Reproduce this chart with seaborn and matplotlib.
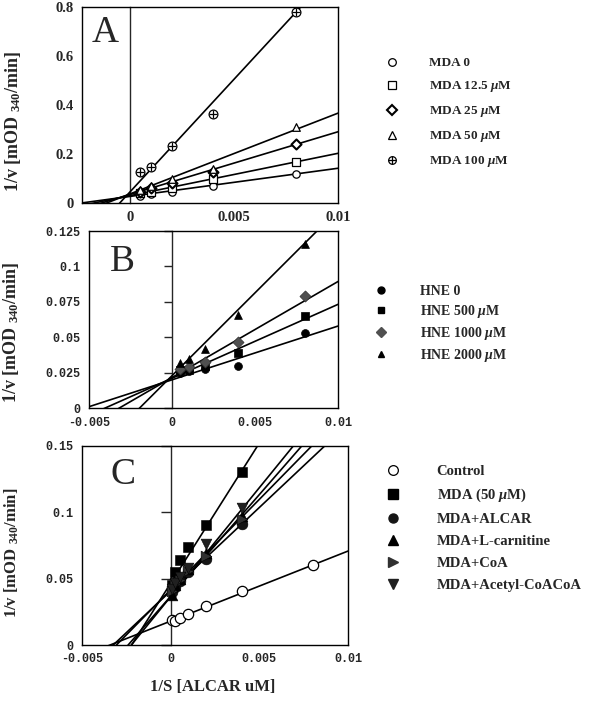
import numpy as np
import pandas as pd
import matplotlib
matplotlib.use('Agg')
import matplotlib.pyplot as plt
import seaborn as sns
from matplotlib.lines import Line2D

sns.set_style('white')
plt.rcParams['font.family'] = ['Liberation Serif', 'DejaVu Serif']
plt.rcParams['mathtext.fontset'] = 'custom'
plt.rcParams['mathtext.rm'] = 'Liberation Serif:bold'
plt.rcParams['mathtext.it'] = 'Liberation Serif:italic:bold'
plt.rcParams['mathtext.bf'] = 'Liberation Serif:bold'

# ---- panel A : MDA ----
xA = [0.0005, 0.001, 0.002, 0.004, 0.008]
A_labels = ['MDA 0', r'MDA 12.5 $\mu$M', r'MDA 25 $\mu$M', r'MDA 50 $\mu$M', r'MDA 100 $\mu$M']
A_y = [
    [0.030, 0.035, 0.045, 0.068, 0.120],
    [0.040, 0.045, 0.060, 0.100, 0.168],
    [0.045, 0.060, 0.080, 0.125, 0.240],
    [0.055, 0.070, 0.100, 0.140, 0.310],
    [0.125, 0.148, 0.232, 0.365, 0.780],
]
A_slope = [11.5, 17.3, 25.6, 33.0, 92.0]
A_icpt = [0.027, 0.030, 0.035, 0.037, 0.045]
A_xticks = [0, 0.005, 0.01]
A_xticklabels = ['0', '0.005', '0.01']
A_yticks = [0, 0.2, 0.4, 0.6, 0.8]
A_yticklabels = ['0', '0.2', '0.4', '0.6', '0.8']

# ---- panel B : HNE ----
xB = [0.0005, 0.001, 0.002, 0.004, 0.008]
B_labels = ['HNE 0', r'HNE 500 $\mu$M', r'HNE 1000 $\mu$M', r'HNE 2000 $\mu$M']
B_y = [
    [0.025, 0.026, 0.028, 0.030, 0.053],
    [0.027, 0.027, 0.030, 0.039, 0.065],
    [0.028, 0.029, 0.033, 0.047, 0.079],
    [0.032, 0.035, 0.042, 0.066, 0.116],
]
B_slope = [3.79, 5.21, 6.77, 11.68]
B_icpt = [0.0201, 0.0212, 0.0217, 0.023]
B_xticks = [-0.005, 0, 0.005, 0.01]
B_xticklabels = ['-0.005', '0', '0.005', '0.01']
B_yticks = [0, 0.025, 0.05, 0.075, 0.1, 0.125]
B_yticklabels = ['0', '0.025', '0.05', '0.075', '0.1', '0.125']

# ---- panel C : ALCAR ----
xC = [0.0001, 0.00025, 0.0005, 0.001, 0.002, 0.004]
xC_ctrl = [0.0001, 0.00025, 0.0005, 0.001, 0.002, 0.004, 0.008]
C_labels = ['Control', r'MDA (50 $\mu$M)', 'MDA+ALCAR', 'MDA+L-carnitine', 'MDA+CoA', 'MDA+Acetyl-CoACoA']
C_ctrl_y = [0.0188, 0.018, 0.0206, 0.023, 0.029, 0.0406, 0.060]
C_y = [
    [0.045, 0.055, 0.064, 0.074, 0.090, 0.130],
    [0.040, 0.044, 0.048, 0.055, 0.065, 0.091],
    [0.038, 0.045, 0.050, 0.057, 0.069, 0.097],
    [0.041, 0.046, 0.049, 0.056, 0.067, 0.095],
    [0.042, 0.047, 0.051, 0.058, 0.076, 0.103],
]
C_slope = [5.27, 21.1, 12.56, 15.3, 13.6, 16.4]
C_icpt = [0.018, 0.0465, 0.0407, 0.0367, 0.0416, 0.0364]
C_xticks = [-0.005, 0, 0.005, 0.01]
C_xticklabels = ['-0.005', '0', '0.005', '0.01']
C_yticks = [0, 0.05, 0.1, 0.15]
C_yticklabels = ['0', '0.05', '0.1', '0.15']

ylab = r'1/v [mOD $_{340}$/min]'


def fit_lines(ax, slopes, icpts, xlim):
    for m, b in zip(slopes, icpts):
        xs = np.array(xlim)
        d = pd.DataFrame({'x': xs, 'y': b + m * xs})
        sns.lineplot(data=d, x='x', y='y', color='black', lw=1.2, ax=ax,
                     estimator=None, sort=False, zorder=2)


def dress(ax, xlim, ylim, xt, xtl, yt, ytl, tickfont, tsize, ticklen):
    ax.set_xlim(xlim)
    ax.set_ylim(ylim)
    ax.set_xticks(xt)
    ax.set_xticklabels(xtl, fontfamily=tickfont, fontweight='bold', fontsize=tsize)
    ax.set_yticks(yt)
    ax.set_yticklabels(ytl, fontfamily=tickfont, fontweight='bold', fontsize=tsize)
    ax.tick_params(length=0, pad=6)
    ax.set_xlabel('')
    ax.set_ylabel('')
    for s in ax.spines.values():
        s.set_linewidth(1.0)
        s.set_color('black')
    # vertical axis line at x = 0 with its own tick marks
    frac = (0 - xlim[0]) / (xlim[1] - xlim[0])
    sec = ax.secondary_yaxis(frac)
    sec.set_yticks(yt)
    sec.set_yticklabels([])
    sec.tick_params(length=ticklen, width=1, direction='out')
    sec.spines['left'].set_linewidth(1.0)


fig = plt.figure(figsize=(6, 7.05), dpi=100)
axA = fig.add_axes([0.1367, 0.712, 0.4267, 0.278])
axB = fig.add_axes([0.1483, 0.4208, 0.415, 0.2515])
axC = fig.add_axes([0.1367, 0.0851, 0.4433, 0.2827])


def legfont(size):
    return {'family': 'Liberation Serif', 'weight': 'bold', 'size': size}


# panel A
xlimA = (-0.0023, 0.01)
fit_lines(axA, A_slope, A_icpt, xlimA)
A_mk = ['o', 's', 'D', '^', 'o']
A_ms = [28, 26, 26, 30, 40]
for i in range(5):
    d = pd.DataFrame({'x': xA, 'y': A_y[i]})
    sns.scatterplot(data=d, x='x', y='y', marker=A_mk[i], s=A_ms[i], facecolor='white',
                    edgecolor='black', linewidth=0.9 if i != 2 else 1.5, ax=axA, zorder=3)
d = pd.DataFrame({'x': xA, 'y': A_y[4]})
sns.scatterplot(data=d, x='x', y='y', marker='+', s=40, color='black', linewidth=0.9, ax=axA, zorder=4)
dress(axA, xlimA, (0, 0.8), A_xticks, A_xticklabels, A_yticks, A_yticklabels,
      'Liberation Serif', 10.5, 0)
axA.text(0.09, 0.867, 'A', transform=axA.transAxes, fontsize=27, va='center', ha='center')
hA = []
for i in range(5):
    h = Line2D([], [], marker=A_mk[i], ls='none', markersize=5.5, markerfacecolor='white',
               markeredgecolor='black', markeredgewidth=0.9 if i != 2 else 1.5)
    if i == 4:
        h = (h, Line2D([], [], marker='+', ls='none', markersize=6, color='black', markeredgewidth=0.9))
    hA.append(h)
fig.legend(hA, A_labels, loc='upper left', bbox_to_anchor=(0.6423, 0.919), frameon=False,
           borderpad=0, borderaxespad=0, handlelength=1, handletextpad=2.3, labelspacing=0.76,
           prop=legfont(9.5))

# panel B
xlimB = (-0.005, 0.01)
fit_lines(axB, B_slope, B_icpt, xlimB)
B_mk = ['o', 's', 'D', '^']
B_col = ['black', 'black', '#505050', 'black']
for i in range(4):
    d = pd.DataFrame({'x': xB, 'y': B_y[i]})
    sns.scatterplot(data=d, x='x', y='y', marker=B_mk[i], s=32, color=B_col[i],
                    edgecolor='black' if i != 2 else '#303030', linewidth=0.5, ax=axB, zorder=3)
dress(axB, xlimB, (0, 0.125), B_xticks, B_xticklabels, B_yticks, B_yticklabels,
      'Liberation Mono', 8.5, 6)
axB.text(0.133, 0.825, 'B', transform=axB.transAxes, fontsize=27, va='center', ha='center')
hB = [Line2D([], [], marker=B_mk[i], ls='none', markersize=5, color=B_col[i]) for i in range(4)]
fig.legend(hB, B_labels, loc='upper left', bbox_to_anchor=(0.6234, 0.5964), frameon=False,
           borderpad=0, borderaxespad=0, handlelength=1, handletextpad=2.3, labelspacing=0.37,
           prop=legfont(10))

# panel C
xlimC = (-0.005, 0.01)
fit_lines(axC, C_slope, C_icpt, xlimC)
d = pd.DataFrame({'x': xC_ctrl, 'y': C_ctrl_y})
sns.scatterplot(data=d, x='x', y='y', marker='o', s=55, facecolor='white', edgecolor='black',
                linewidth=0.9, ax=axC, zorder=3)
C_mk = ['s', 'o', '^', '>', 'v']
C_col = ['black', '#151515', 'black', '#303030', '#202020']
for i in range(5):
    d = pd.DataFrame({'x': xC, 'y': C_y[i]})
    sns.scatterplot(data=d, x='x', y='y', marker=C_mk[i], s=60, color=C_col[i],
                    edgecolor='black', linewidth=0.4, ax=axC, zorder=3)
dress(axC, xlimC, (0, 0.15), C_xticks, C_xticklabels, C_yticks, C_yticklabels,
      'Liberation Mono', 8.5, 7)
axC.text(0.154, 0.853, 'C', transform=axC.transAxes, fontsize=27, va='center', ha='center')
hC = [Line2D([], [], marker='o', ls='none', markersize=7, markerfacecolor='white',
             markeredgecolor='black', markeredgewidth=0.9)]
hC += [Line2D([], [], marker=C_mk[i], ls='none', markersize=6.5, color=C_col[i]) for i in range(5)]
fig.legend(hC, C_labels, loc='upper left', bbox_to_anchor=(0.6428, 0.3403), frameon=False,
           borderpad=0, borderaxespad=0, handlelength=1, handletextpad=2.5, labelspacing=0.6,
           prop=legfont(10.5))

# axis titles
fig.text(0.022, 0.828, ylab, rotation=90, ha='center', va='center', fontsize=13, fontweight='bold')
fig.text(0.018, 0.528, ylab, rotation=90, ha='center', va='center', fontsize=13, fontweight='bold')
fig.text(0.02, 0.216, ylab, rotation=90, ha='center', va='center', fontsize=12, fontweight='bold')
fig.text(0.355, 0.026, '1/S [ALCAR uM]', ha='center', va='center', fontsize=12, fontweight='bold')

fig.savefig('out.png', dpi=100)
